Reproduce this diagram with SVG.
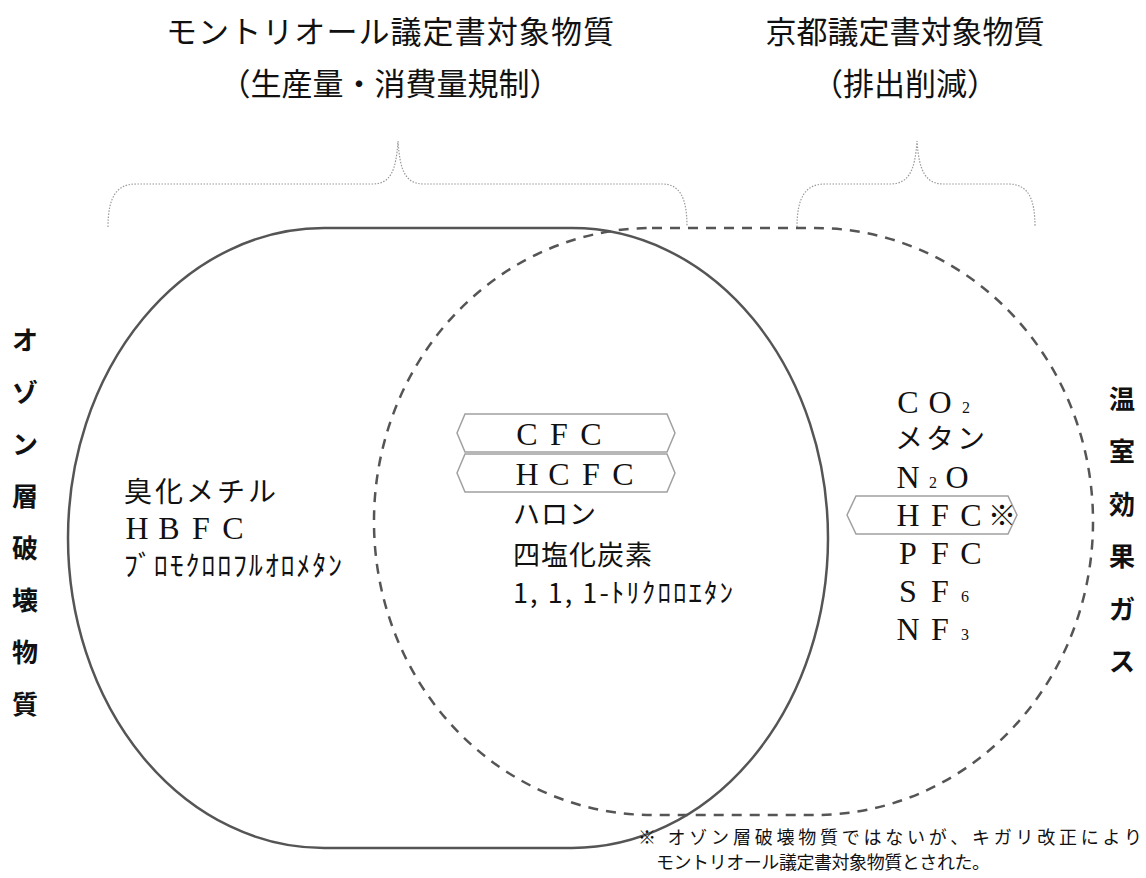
<svg xmlns="http://www.w3.org/2000/svg" width="1146" height="878" viewBox="0 0 1146 878">
<style>
.jp{font-family:'Noto Sans CJK JP','Noto Sans CJK SC',sans-serif;fill:#111}
.t{font-size:31px;text-anchor:middle}
.b{font-size:26px;font-weight:700;text-anchor:middle}
.m{font-size:28px;letter-spacing:3px}
.c{font-size:27px;letter-spacing:1px}
.lat{font-family:'Liberation Serif',serif;font-size:32px;fill:#111;text-anchor:middle}
.sub{font-family:'Liberation Serif',serif;font-size:16px;fill:#111;text-anchor:middle}
.brace{fill:none;stroke:#999;stroke-width:1.2;stroke-dasharray:1.5 1.5}
.set{fill:none;stroke:#555;stroke-width:2.5}
.dash{stroke-dasharray:10 8}
.tag{fill:none;stroke:#a0a0a0;stroke-width:1.5}
.fn{font-size:18px}
</style>
<rect width="1146" height="878" fill="#fff"/>

<g id="montreal-title">
<text class="jp t" x="390" y="43" textLength="448">モントリオール議定書対象物質</text>
<text class="jp t" x="390" y="95">（生産量・消費量規制）</text>
</g>
<g id="kyoto-title">
<text class="jp t" x="905" y="43">京都議定書対象物質</text>
<text class="jp t" x="905" y="95">（排出削減）</text>
</g>

<g id="connectors">
<path class="brace" d="M108,227 C108,198 116,184 136,184 L372,184 C390,184 396,172 398,141 C400,172 406,184 424,184 L662,184 C680,184 687,198 687,227"/>
<path class="brace" d="M797,227 C797,198 805,184 825,184 L890,184 C908,184 915,172 917,141 C919,172 926,184 944,184 L1008,184 C1028,184 1035,198 1035,227"/>
</g>

<g id="ods-set">
<rect class="set" x="68" y="228" width="760" height="620" rx="256" ry="310"/>
</g>
<g id="ghg-set">
<rect class="set dash" x="374" y="228" width="719" height="587" rx="278" ry="293"/>
</g>

<g id="ods-label">
<text class="jp b" x="25 25 25 25 25 25 25 25" y="350 402 454 506 558 610 662 714">オゾン層破壊物質</text>
</g>
<g id="ghg-label">
<text class="jp b" x="1122 1122 1122 1122 1122 1122" y="409 461 514 566 619 671">温室効果ガス</text>
</g>

<g id="ods-only">
<text class="jp m" x="124" y="502">臭化メチル</text>
<text class="lat" x="137 169 201 233" y="539">HBFC</text>
<text class="jp" font-size="28" x="124" y="576" textLength="218" lengthAdjust="spacing">ﾌﾞﾛﾓｸﾛﾛﾌﾙｵﾛﾒﾀﾝ</text>
</g>

<g id="cfc">
<polygon class="tag" points="457,433 465,414 667,414 675,433 667,452 465,452"/>
<text class="lat" x="527 559 591" y="445">CFC</text>
</g>
<g id="hcfc">
<polygon class="tag" points="457,473 465,454 667,454 675,473 667,492 465,492"/>
<text class="lat" x="527 559 591 623" y="485">HCFC</text>
</g>
<g id="both">
<text class="jp c" x="513" y="524">ハロン</text>
<text class="jp c" x="513" y="565">四塩化炭素</text>
<text class="jp" font-size="27" x="513" y="603" textLength="220" lengthAdjust="spacing">1, 1, 1-ﾄﾘｸﾛﾛｴﾀﾝ</text>
</g>

<g id="ghg-only">
<text class="lat" x="908 940" y="413">CO</text><text class="sub" x="966" y="413">2</text>
<text class="jp m" x="895" y="449">メタン</text>
<text class="lat" x="908" y="488">N</text><text class="sub" x="933" y="488">2</text><text class="lat" x="957" y="488">O</text>
<text class="lat" x="908 940 971" y="564">PFC</text>
<text class="lat" x="908 940" y="602">SF</text><text class="sub" x="965" y="602">6</text>
<text class="lat" x="908 940" y="640">NF</text><text class="sub" x="965" y="640">3</text>
</g>
<g id="hfc">
<polygon class="tag" points="847,515 856,496 1008,496 1017,515 1008,534 856,534"/>
<text class="lat" x="908 940 971" y="526">HFC</text>
<text class="jp" font-size="28" x="1002" y="526" text-anchor="middle">※</text>
</g>

<g id="footnote">
<text class="jp fn" x="638" y="844" textLength="504" lengthAdjust="spacing">※ オゾン層破壊物質ではないが、キガリ改正により</text>
<text class="jp fn" x="656" y="869" textLength="334" lengthAdjust="spacing">モントリオール議定書対象物質とされた。</text>
</g>
</svg>
